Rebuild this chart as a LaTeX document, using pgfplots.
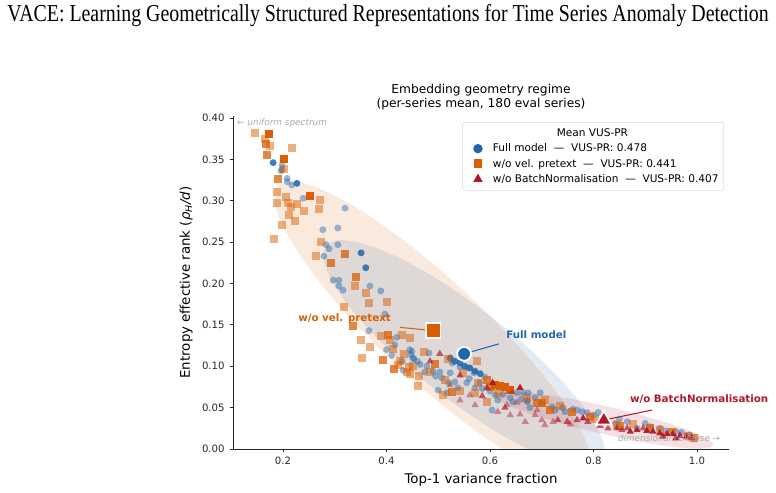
\documentclass[border=0pt]{standalone}
\usepackage{graphicx}
\usepackage{pgfplots}
\pgfplotsset{compat=1.18}
\usepackage{fontspec}
\setmainfont{DejaVu Sans}
\newfontfamily\titlefont{Liberation Serif}

\definecolor{cblue}{HTML}{2166AC}
\definecolor{corange}{HTML}{D95F02}
\definecolor{cred}{HTML}{B2182B}
\definecolor{notegray}{HTML}{AAAAAA}

\begin{document}
\begin{tikzpicture}
\useasboundingbox (0,0) rectangle (558.72pt,354.96pt);

% figure title
\node[anchor=base, inner sep=0pt] at (279.4pt,339.8pt)
  {\resizebox{548pt}{\height}{\titlefont\fontsize{17.5}{20}\selectfont VACE: Learning Geometrically Structured Representations for Time Series Anomaly Detection}};

\begin{axis}[
  at={(167.76pt,31.68pt)}, anchor=south west,
  scale only axis, width=357.12pt, height=239.76pt,
  xmin=0.1034, xmax=1.0618, ymin=0, ymax=0.4024,
  axis x line*=bottom, axis y line*=left,
  axis line style={black!85, line width=0.6pt},
  tick align=outside, major tick length=2.5pt,
  tick style={black!85, line width=0.6pt},
  xtick={0.2,0.4,0.6,0.8,1.0},
  ytick={0,0.05,0.10,0.15,0.20,0.25,0.30,0.35,0.40},
  scaled ticks=false,
  xticklabel style={/pgf/number format/fixed, /pgf/number format/precision=1, /pgf/number format/fixed zerofill},
  yticklabel style={/pgf/number format/fixed, /pgf/number format/precision=2, /pgf/number format/fixed zerofill},
  /pgf/number format/assume math mode=true,
  tick label style={font=\fontsize{7.3}{8}\selectfont, text=black!85},
  label style={font=\fontsize{9.6}{11}\selectfont},
  xlabel={Top-1 variance fraction},
  xlabel style={at={(axis description cs:0.5,0)}, anchor=base, yshift=-25.2pt},
  ylabel={Entropy effective rank (\textit{ρ\textsubscript{H}/d})},
  ylabel style={at={(axis description cs:-0.0867,0.5)}, anchor=base},
  legend style={at={(rel axis cs:0.99,0.982)}, anchor=north east,
    draw=black!15, rounded corners=1.5pt, font=\fontsize{7.6}{8.5}\selectfont,
    inner sep=2.5pt, row sep=0pt, column sep=6pt,
    nodes={inner sep=1.3pt, text height=6.5pt, text depth=1.9pt}},
  legend cell align=left,
]

% 2-sigma spread of each variant
\fill[corange, fill opacity=0.13, rotate around={-43:(axis cs:0.49,0.143)}]
  (axis cs:0.49,0.143) ellipse [x radius=152.6pt, y radius=36pt];
\fill[cblue, fill opacity=0.13, rotate around={-38:(axis cs:0.55,0.115)}]
  (axis cs:0.55,0.115) ellipse [x radius=126pt, y radius=33pt];
\fill[cred, fill opacity=0.13, rotate around={-13:(axis cs:0.82,0.035)}]
  (axis cs:0.82,0.035) ellipse [x radius=80.6pt, y radius=10pt];

% Full model, per-series points
\addplot[forget plot, only marks, mark=*, mark size=2.5pt, color=cblue,
  mark options={draw opacity=0, fill=cblue, fill opacity=0.45}] coordinates {
(0.198,0.343)(0.198,0.338)(0.196,0.336)(0.208,0.327)(0.208,0.323)(0.217,0.319)
(0.239,0.303)(0.320,0.291)(0.277,0.265)(0.306,0.267)(0.283,0.247)(0.289,0.242)
(0.306,0.247)(0.279,0.233)(0.297,0.204)(0.308,0.204)(0.308,0.197)(0.316,0.192)
(0.368,0.197)(0.389,0.191)(0.397,0.163)(0.366,0.143)(0.420,0.135)(0.416,0.126)
(0.445,0.120)(0.447,0.114)(0.453,0.109)(0.482,0.116)(0.432,0.095)(0.449,0.118)
(0.451,0.110)(0.465,0.102)(0.474,0.093)(0.490,0.094)(0.503,0.093)(0.507,0.086)
(0.523,0.092)(0.527,0.104)(0.542,0.099)(0.557,0.098)(0.569,0.092)(0.532,0.081)
(0.538,0.074)(0.555,0.080)(0.500,0.071)(0.517,0.068)(0.571,0.074)(0.585,0.073)
(0.610,0.065)(0.615,0.059)(0.639,0.062)(0.644,0.057)(0.604,0.047)(0.652,0.068)
(0.672,0.059)(0.674,0.068)(0.687,0.062)(0.590,0.087)(0.664,0.068)(0.697,0.068)
(0.672,0.057)(0.677,0.050)(0.720,0.051)(0.726,0.047)(0.745,0.045)(0.768,0.047)
(0.778,0.045)(0.788,0.044)(0.800,0.041)(0.809,0.044)(0.842,0.031)(0.865,0.033)
(0.900,0.031)(0.928,0.025)(0.959,0.021)(0.986,0.017)(0.884,0.025)
(0.460,0.106)(0.478,0.100)(0.495,0.088)(0.520,0.080)(0.560,0.085)(0.580,0.080)
(0.600,0.070)(0.625,0.066)(0.660,0.060)(0.700,0.055)(0.740,0.050)(0.760,0.048)
(0.820,0.038)(0.850,0.036)(0.910,0.027)(0.940,0.022)(0.970,0.020)(0.410,0.113)
(0.400,0.120)(0.430,0.106)
};
\addplot[forget plot, only marks, mark=*, mark size=2.5pt, color=cblue,
  mark options={draw opacity=0, fill=cblue, fill opacity=0.85}] coordinates {
(0.181,0.346)(0.227,0.321)(0.351,0.237)(0.360,0.219)(0.523,0.110)(0.532,0.106)
(0.542,0.104)(0.551,0.100)(0.561,0.098)(0.571,0.094)(0.581,0.091)
};

% w/o velocity pretext, per-series points
\addplot[forget plot, only marks, mark=square*, mark size=2.9pt, color=corange,
  mark options={draw opacity=0, fill=corange, fill opacity=0.5}] coordinates {
(0.146,0.382)(0.165,0.375)(0.175,0.366)(0.217,0.364)(0.202,0.338)(0.188,0.311)
(0.206,0.305)(0.188,0.297)(0.210,0.297)(0.215,0.292)(0.227,0.296)(0.241,0.288)
(0.271,0.301)(0.270,0.290)(0.212,0.283)(0.223,0.276)(0.198,0.271)(0.183,0.254)
(0.273,0.250)(0.264,0.233)(0.339,0.197)(0.360,0.189)(0.366,0.176)(0.401,0.178)
(0.318,0.172)(0.389,0.137)(0.407,0.132)(0.430,0.138)(0.445,0.134)(0.412,0.121)
(0.351,0.132)(0.353,0.110)(0.434,0.115)(0.426,0.106)(0.422,0.102)(0.440,0.093)
(0.445,0.091)(0.461,0.076)(0.509,0.065)(0.443,0.099)(0.451,0.100)(0.463,0.088)
(0.519,0.109)(0.575,0.106)(0.548,0.092)(0.577,0.080)(0.542,0.070)(0.571,0.068)
(0.594,0.057)(0.615,0.068)(0.706,0.059)(0.803,0.036)(0.845,0.029)(0.672,0.062)
(0.735,0.052)(0.983,0.016)(0.928,0.023)(0.876,0.030)(0.484,0.093)(0.473,0.117)
(0.368,0.123)(0.513,0.083)
};
\addplot[forget plot, only marks, mark=square*, mark size=2.9pt, color=corange,
  mark options={draw opacity=0, fill=corange, fill opacity=0.75}] coordinates {
(0.167,0.369)(0.169,0.355)(0.190,0.326)(0.293,0.225)(0.320,0.236)(0.341,0.208)
(0.335,0.149)(0.403,0.138)(0.393,0.108)(0.414,0.097)(0.527,0.069)(0.494,0.103)
(0.594,0.083)(0.600,0.075)(0.691,0.056)(0.700,0.056)(0.716,0.047)(0.758,0.045)
(0.793,0.039)(0.851,0.028)(0.909,0.025)(0.952,0.021)(0.994,0.013)
};
\addplot[forget plot, only marks, mark=square*, mark size=2.9pt, color=corange,
  mark options={draw opacity=0, fill=corange, fill opacity=1}] coordinates {
(0.173,0.381)(0.202,0.350)(0.252,0.306)(0.629,0.075)(0.619,0.076)(0.639,0.071)
(0.609,0.077)
};

% w/o BatchNormalisation, per-series points
\addplot[forget plot, only marks, mark=triangle*, mark size=3pt, color=cred,
  mark options={draw opacity=0, fill=cred, fill opacity=0.45}] coordinates {
(0.652,0.056)(0.633,0.053)(0.658,0.042)(0.687,0.041)(0.691,0.047)(0.700,0.035)
(0.722,0.033)(0.755,0.030)(0.706,0.029)(0.668,0.033)(0.639,0.041)(0.615,0.045)
(0.542,0.059)(0.571,0.053)(0.523,0.077)(0.561,0.065)(0.642,0.069)
};
\addplot[forget plot, only marks, mark=triangle*, mark size=3pt, color=cred,
  mark options={draw opacity=0, fill=cred, fill opacity=0.7}] coordinates {
(0.484,0.106)(0.503,0.115)(0.542,0.089)(0.594,0.074)(0.585,0.064)(0.629,0.050)
(0.731,0.035)(0.749,0.033)(0.768,0.035)(0.789,0.033)(0.845,0.025)(0.865,0.025)
(0.896,0.025)(0.813,0.028)(0.828,0.025)(0.855,0.023)
};
\addplot[forget plot, only marks, mark=triangle*, mark size=3pt, color=cred,
  mark options={draw opacity=0, fill=cred, fill opacity=0.95}] coordinates {
(0.605,0.080)(0.658,0.074)(0.780,0.037)(0.884,0.023)(0.903,0.022)(0.915,0.021)
(0.928,0.019)(0.942,0.018)(0.953,0.018)(0.967,0.016)(0.979,0.015)(0.990,0.013)
(0.871,0.021)(0.934,0.015)(0.959,0.013)
};

% leader lines to the means
\draw[corange, line width=0.75pt] (axis cs:0.426,0.147) -- (axis cs:0.49,0.143);
\draw[cblue, line width=0.75pt] (axis cs:0.55,0.115) -- (axis cs:0.617,0.127);
\draw[cred, line width=0.75pt] (axis cs:0.82,0.035) -- (axis cs:0.913,0.047);

% means over the 180 evaluation series
\addplot[forget plot, only marks, mark=*, mark size=5pt,
  mark options={fill=cblue, draw=white, line width=1.3pt}] coordinates {(0.55,0.115)};
\addplot[forget plot, only marks, mark=square*, mark size=5.3pt,
  mark options={fill=corange, draw=white, line width=1.3pt}] coordinates {(0.49,0.143)};
\addplot[forget plot, only marks, mark=triangle*, mark size=6.5pt,
  mark options={fill=cred, draw=white, line width=1.3pt}] coordinates {(0.82,0.035)};

% anchor points for the annotations
\coordinate (labO) at (axis cs:0.409,0.157);
\coordinate (labB) at (axis cs:0.631,0.138);
\coordinate (labR) at (axis cs:0.870,0.060);
\coordinate (noteL) at (axis cs:0.111,0.394);
\coordinate (noteR) at (axis cs:0.847,0.012);

% legend
\addlegendimage{empty legend}
\addlegendentry{\hspace*{46pt}Mean VUS-PR}
\addlegendimage{only marks, mark=*, mark size=3.4pt, color=cblue, mark options={draw opacity=0, fill=cblue}}
\addlegendentry{Full model~~—~~VUS-PR: 0.478}
\addlegendimage{only marks, mark=square*, mark size=3.2pt, color=corange, mark options={draw opacity=0, fill=corange}}
\addlegendentry{w/o vel. pretext~~—~~VUS-PR: 0.441}
\addlegendimage{only marks, mark=triangle*, mark size=4pt, color=cred, mark options={draw opacity=0, fill=cred}}
\addlegendentry{w/o BatchNormalisation~~—~~VUS-PR: 0.407}
\end{axis}

% annotations
\node[anchor=east, inner sep=0pt, text=corange, font=\bfseries\fontsize{7.4}{8}\selectfont] at (labO) {w/o vel. pretext};
\node[anchor=west, inner sep=0pt, text=cblue, font=\bfseries\fontsize{7.4}{8}\selectfont] at (labB) {Full model};
\node[anchor=west, inner sep=0pt, text=cred, font=\bfseries\fontsize{7.4}{8}\selectfont] at (labR) {w/o BatchNormalisation};
\node[anchor=west, text=notegray, font=\itshape\fontsize{6.4}{7}\selectfont, inner sep=0pt] at (noteL) {← uniform spectrum};
\node[anchor=west, text=notegray, font=\itshape\fontsize{6.3}{7}\selectfont, inner sep=0pt] at (noteR) {dimensional collapse →};

% panel title
\node[anchor=base, font=\fontsize{8.8}{10}\selectfont] at (346.3pt,287.3pt) {Embedding geometry regime};
\node[anchor=base, font=\fontsize{8.8}{10}\selectfont] at (346.3pt,277.9pt) {(per-series mean, 180 eval series)};
\end{tikzpicture}
\end{document}
